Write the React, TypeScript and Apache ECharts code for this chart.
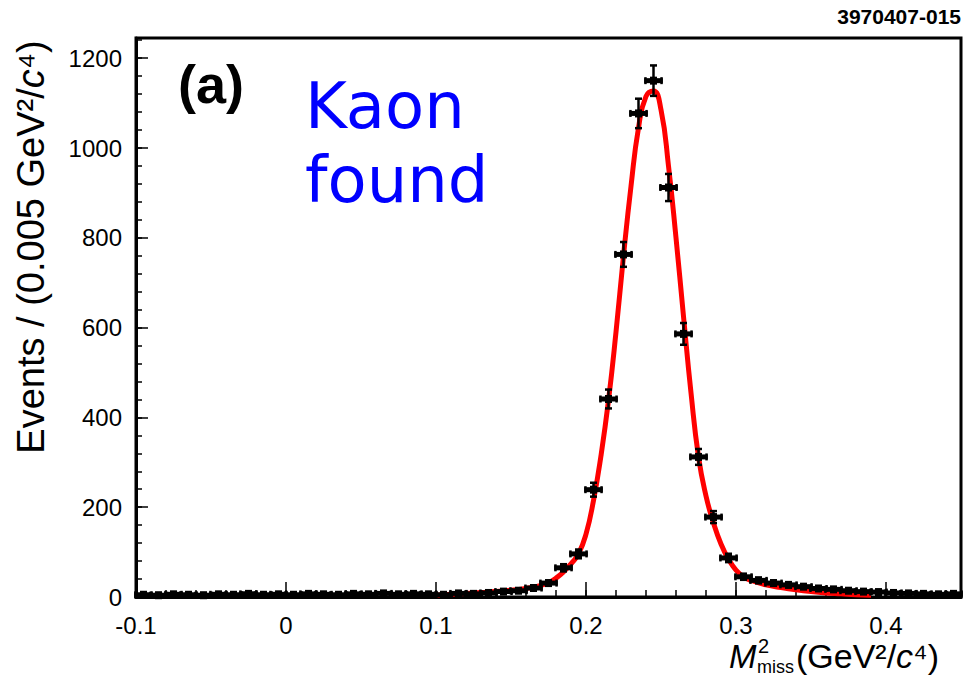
import React, { useEffect, useRef } from "react";
import * as echarts from "echarts";

// Bin centres (GeV^2/c^4) and event counts
const binCenters = [
  -0.095, -0.085, -0.075, -0.065, -0.055, -0.045, -0.035, -0.025, -0.015, -0.005,
  0.005, 0.015, 0.025, 0.035, 0.045, 0.055, 0.065, 0.075, 0.085, 0.095,
  0.105, 0.115, 0.125, 0.135, 0.145, 0.155, 0.165, 0.175, 0.185, 0.195,
  0.205, 0.215, 0.225, 0.235, 0.245, 0.255, 0.265, 0.275, 0.285, 0.295,
  0.305, 0.315, 0.325, 0.335, 0.345, 0.355, 0.365, 0.375, 0.385, 0.395,
  0.405, 0.415, 0.425, 0.435, 0.445,
];
const eventCounts = [
  5, 4, 6, 5, 4, 6, 5, 7, 5, 6,
  5, 7, 6, 5, 7, 6, 8, 6, 7, 6,
  5, 8, 7, 9, 12, 14, 20, 31, 65, 96,
  239, 441, 763, 1077, 1150, 912, 586, 312, 178, 87,
  45, 37, 31, 27, 23, 19, 17, 14, 12, 11,
  9, 8, 7, 6, 7,
];

// Fit curve
const fitX = [
  0.1, 0.11, 0.12, 0.13, 0.14, 0.15, 0.16, 0.17, 0.175, 0.18, 0.185, 0.19, 0.195,
  0.2, 0.205, 0.21, 0.215, 0.22, 0.225, 0.23, 0.235, 0.24, 0.245, 0.25, 0.255,
  0.26, 0.265, 0.27, 0.275, 0.28, 0.285, 0.29, 0.295, 0.3, 0.305, 0.31, 0.32,
  0.33, 0.34, 0.35, 0.36, 0.37, 0.38, 0.39,
];
const fitY = [
  4, 6, 8, 10, 12, 15, 19, 26, 32, 42, 56, 74, 96,
  140, 215, 315, 438, 590, 760, 915, 1045, 1115, 1127, 1085, 960,
  800, 625, 455, 312, 225, 165, 118, 84, 60, 45, 37, 27,
  21, 16, 12, 9, 7, 5, 4,
];

const xTickLabels = ["-0.1", "0", "0.1", "0.2", "0.3", "0.4"];
const yTickLabels = ["0", "200", "400", "600", "800", "1000", "1200"];

const FONT = "Liberation Sans";
const HALF = 0.0062;

export default function App() {
  const ref = useRef<HTMLDivElement>(null);

  useEffect(() => {
    if (!ref.current) return;
    const chart = echarts.init(ref.current, undefined, { renderer: "svg" });

    const points = binCenters.map((x, i) => [x, eventCounts[i]]);
    const curve = fitX.map((x, i) => [x, fitY[i]]);

    const tickStyle = { color: "#000", width: 1.5 };

    const option: any = {
      animation: false,
      backgroundColor: "#fff",
      grid: {
        left: 136,
        right: 2,
        top: 38,
        bottom: 84,
        show: true,
        borderColor: "#000",
        borderWidth: 3,
        backgroundColor: "transparent",
      },
      xAxis: [
        {
          type: "value",
          min: -0.1,
          max: 0.45,
          interval: 0.1,
          axisLine: { show: true, onZero: false, lineStyle: { color: "#000", width: 3 } },
          axisTick: { show: true, inside: true, length: 15, lineStyle: tickStyle },
          axisLabel: {
            show: true,
            margin: 16,
            fontFamily: FONT,
            fontSize: 24,
            color: "#000",
            showMaxLabel: false,
            formatter: (v: number) => {
              const idx = Math.round((v + 0.1) * 10);
              const exact = Math.abs((v + 0.1) * 10 - idx) < 1e-6;
              return exact && idx >= 0 && idx < xTickLabels.length ? xTickLabels[idx] : "";
            },
          },
          splitLine: { show: false },
        },
        {
          type: "value",
          min: -0.1,
          max: 0.45,
          interval: 0.02,
          position: "bottom",
          axisLine: { show: false, onZero: false },
          axisTick: { show: true, inside: true, length: 7, lineStyle: tickStyle },
          axisLabel: { show: false },
          splitLine: { show: false },
        },
      ],
      yAxis: [
        {
          type: "value",
          min: 0,
          max: 1245,
          interval: 200,
          axisLine: { show: true, onZero: false, lineStyle: { color: "#000", width: 3 } },
          axisTick: { show: true, inside: true, length: 12, lineStyle: tickStyle },
          axisLabel: {
            show: true,
            margin: 14,
            fontFamily: FONT,
            fontSize: 24,
            color: "#000",
            showMaxLabel: false,
            formatter: (v: number) => {
              const idx = Math.round(v / 200);
              return Math.abs(v - idx * 200) < 1e-6 && idx < yTickLabels.length ? yTickLabels[idx] : "";
            },
          },
          splitLine: { show: false },
        },
        {
          type: "value",
          min: 0,
          max: 1245,
          interval: 40,
          position: "left",
          axisLine: { show: false, onZero: false },
          axisTick: { show: true, inside: true, length: 6, lineStyle: tickStyle },
          axisLabel: { show: false },
          splitLine: { show: false },
        },
      ],
      series: [
        {
          type: "line",
          xAxisIndex: 0,
          yAxisIndex: 0,
          data: curve,
          smooth: 0.5,
          showSymbol: false,
          symbol: "none",
          lineStyle: { color: "#ff0000", width: 5 },
          z: 2,
        },
        {
          type: "custom",
          xAxisIndex: 0,
          yAxisIndex: 0,
          data: points,
          z: 3,
          renderItem: (params: any, api: any) => {
            const x = api.value(0);
            const y = api.value(1);
            const c = api.coord([x, y]);
            const l = api.coord([x - HALF, y]);
            const r = api.coord([x + HALF, y]);
            const err = Math.sqrt(y);
            const t = api.coord([x, y + err]);
            const b = api.coord([x, Math.max(0, y - err)]);
            const st = { fill: "#000", stroke: null };
            const ls = { stroke: "#000", lineWidth: 2.5 };
            return {
              type: "group",
              children: [
                { type: "rect", shape: { x: l[0], y: c[1] - 2.5, width: r[0] - l[0], height: 5 }, style: st },
                { type: "rect", shape: { x: l[0], y: c[1] - 3.5, width: 2.5, height: 7 }, style: st },
                { type: "rect", shape: { x: r[0] - 2.5, y: c[1] - 3.5, width: 2.5, height: 7 }, style: st },
                { type: "rect", shape: { x: c[0] - 3.5, y: c[1] - 4, width: 7, height: 8 }, style: st },
                { type: "line", shape: { x1: c[0], y1: t[1], x2: c[0], y2: b[1] }, style: ls },
                { type: "line", shape: { x1: c[0] - 3.5, y1: t[1], x2: c[0] + 3.5, y2: t[1] }, style: { stroke: "#000", lineWidth: 2.5 } },
                { type: "line", shape: { x1: c[0] - 3.5, y1: b[1], x2: c[0] + 3.5, y2: b[1] }, style: { stroke: "#000", lineWidth: 2.5 } },
              ],
            };
          },
        },
      ],
      graphic: [
        {
          type: "text",
          right: 2,
          top: 6,
          style: { text: "3970407-015", fontFamily: FONT, fontSize: 21, fontWeight: "bold", fill: "#000" },
        },
        {
          type: "text",
          x: 178,
          y: 84,
          style: {
            text: "(a)",
            fontFamily: FONT,
            fontSize: 54,
            fontWeight: "bold",
            fill: "#000",
            align: "left",
            verticalAlign: "middle",
          },
        },
        {
          type: "text",
          x: 305,
          y: 106,
          style: { text: "Kaon", fontFamily: "DejaVu Sans", fontSize: 64, fill: "#0000ff", align: "left", verticalAlign: "middle" },
        },
        {
          type: "text",
          x: 305,
          y: 180,
          style: { text: "found", fontFamily: "DejaVu Sans", fontSize: 64, fill: "#0000ff", align: "left", verticalAlign: "middle" },
        },
        {
          type: "text",
          x: 31,
          y: 247,
          rotation: Math.PI / 2,
          style: {
            text: "Events / (0.005 GeV²/{i|c}⁴)",
            fontFamily: FONT,
            fontSize: 38,
            fill: "#000",
            align: "center",
            verticalAlign: "middle",
            rich: { i: { fontFamily: FONT, fontSize: 38, fontStyle: "italic", fill: "#000" } },
          },
        },
        {
          type: "text",
          x: 729,
          y: 656,
          style: { text: "M", fontFamily: FONT, fontSize: 33, fontStyle: "italic", fill: "#000", align: "left", verticalAlign: "middle" },
        },
        {
          type: "text",
          x: 758,
          y: 646,
          style: { text: "2", fontFamily: FONT, fontSize: 20, fill: "#000", align: "left", verticalAlign: "middle" },
        },
        {
          type: "text",
          x: 757,
          y: 667,
          style: { text: "miss", fontFamily: FONT, fontSize: 18, fill: "#000", align: "left", verticalAlign: "middle" },
        },
        {
          type: "text",
          x: 796,
          y: 656,
          style: {
            text: "(GeV²/{i|c}⁴)",
            fontFamily: FONT,
            fontSize: 34,
            fill: "#000",
            align: "left",
            verticalAlign: "middle",
            rich: { i: { fontFamily: FONT, fontSize: 34, fontStyle: "italic", fill: "#000" } },
          },
        },
      ],
    };

    chart.setOption(option);
    return () => chart.dispose();
  }, []);

  return (
    <div
      ref={ref}
      style={{ position: "fixed", left: 0, top: 0, width: 963, height: 681, background: "#fff" }}
    />
  );
}
